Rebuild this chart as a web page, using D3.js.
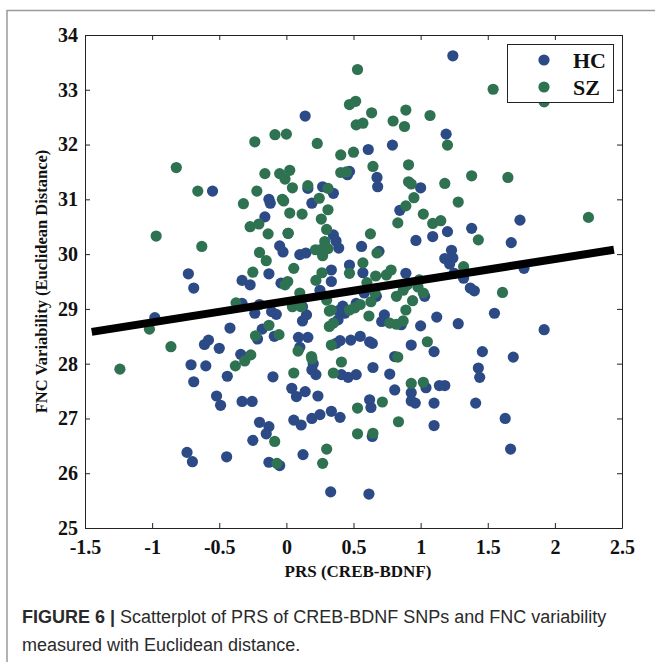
<!DOCTYPE html>
<html>
<head>
<meta charset="utf-8" />
<title>PRS vs FNC variability</title>
<style>
  body { margin: 0; background: #fff; }
  svg { display: block; }
</style>
</head>
<body>
<div id="chart"></div>
<script src="https://d3js.org/d3.v7.min.js"></script>
<script>
// healthy controls
var hcX = [-0.98,-0.73,-0.69,-0.55,-0.58,-0.61,-0.50,-0.42,-0.71,-0.60,-0.69,-0.44,-0.52,-0.49,-0.33,-0.255,-0.74,-0.70,-0.445,-0.33,
  -0.27,-0.33,-0.20,-0.235,-0.18,-0.215,-0.34,-0.20,-0.13,-0.15,-0.25,-0.13,-0.05,-0.13,-0.12,-0.16,-0.13,-0.11,-0.075,-0.09,
  -0.10,-0.05,-0.025,0.013,-0.04,0.14,0.16,0.27,0.35,0.19,0.35,0.37,0.39,0.10,0.145,0.25,0.335,0.335,0.12,0.12,
  0.15,0.09,0.16,0.10,0.385,0.42,0.435,0.39,0.40,0.48,0.37,0.55,0.62,0.64,0.52,0.47,0.57,0.56,0.69,0.055,
  0.11,0.19,0.25,0.335,0.40,0.04,0.075,0.14,0.235,0.19,0.22,0.20,0.41,0.46,0.52,0.645,0.77,0.62,0.63,0.64,
  0.124,0.33,0.615,0.61,0.79,0.47,0.455,0.675,0.68,1.00,1.24,1.19,0.845,0.965,1.09,1.20,1.38,1.74,1.675,1.23,
  1.24,1.216,1.18,1.77,1.25,1.32,1.37,1.40,1.55,1.28,1.92,1.46,1.69,1.43,1.44,1.18,1.41,1.63,1.67,0.89,
  1.03,0.67,0.58,0.73,0.71,0.856,1.00,1.12,1.10,0.93,0.807,0.807,1.04,1.14,0.93,0.93,0.96,1.10,1.10];
var hcY = [28.84,29.64,29.38,31.15,28.43,28.35,28.28,28.65,27.98,27.96,27.67,27.77,27.41,27.24,27.31,27.31,26.38,26.21,26.30,29.52,
  29.44,29.10,29.08,28.92,28.63,28.45,28.17,26.93,26.85,26.72,26.60,26.20,26.14,31.00,30.93,30.68,29.64,28.95,28.90,28.50,
  27.76,30.15,30.04,30.38,29.47,32.52,31.20,31.23,31.11,30.93,30.35,30.24,30.11,29.99,30.02,29.34,29.71,29.50,29.04,28.78,
  28.89,28.48,28.48,28.30,28.80,29.05,28.92,28.97,28.42,28.43,28.37,28.50,28.40,28.37,29.10,29.80,29.66,30.14,30.05,26.97,
  26.88,27.00,27.07,27.13,27.02,27.55,27.40,27.49,27.41,27.89,27.80,28.00,27.80,27.75,27.80,27.93,27.81,27.34,27.20,26.67,
  26.34,25.66,25.62,31.91,31.99,31.51,31.45,31.40,31.23,31.21,33.62,32.19,30.80,30.25,30.32,30.41,30.47,30.62,30.21,30.07,
  29.93,29.82,29.92,29.74,29.65,29.56,29.38,29.33,28.92,28.73,28.62,28.22,28.12,27.92,27.75,27.60,27.28,27.00,26.44,29.65,
  29.23,29.23,29.29,28.89,28.77,28.71,28.69,28.85,28.22,28.34,28.13,27.52,27.56,27.60,27.47,27.32,27.28,27.28,26.87];

// schizophrenia patients
var szX = [-1.24,-1.02,-0.97,-0.86,-0.82,-0.66,-0.63,-0.32,-0.22,-0.16,-0.235,-0.085,0.0,-0.205,-0.27,-0.136,-0.20,-0.15,-0.25,-0.375,
  -0.13,-0.23,-0.055,-0.38,-0.31,-0.265,-0.087,-0.07,0.30,0.27,0.53,0.53,0.645,0.715,0.835,0.055,0.35,0.41,0.19,0.335,
  0.087,0.187,0.35,0.32,0.045,0.10,0.11,-0.01,0.01,0.055,0.22,0.265,0.30,0.335,0.32,0.025,-0.02,0.117,0.31,0.26,
  0.30,0.286,0.25,0.31,0.27,0.217,0.013,-0.05,0.025,-0.01,0.045,-0.03,0.16,0.31,0.245,0.23,0.53,0.47,0.516,0.635,
  0.52,0.57,0.795,0.88,0.89,1.07,1.20,0.405,0.50,0.645,0.91,0.405,0.447,0.91,0.93,1.18,0.95,0.89,0.83,1.02,
  1.09,1.15,1.28,1.38,1.65,1.54,1.92,2.25,1.43,1.32,1.61,0.626,0.675,0.57,0.47,0.665,0.745,0.78,0.99,0.98,
  1.02,0.94,0.89,0.90,0.87,0.82,0.60,0.66,0.63,0.51,0.55,0.47,0.615,0.77,0.82,0.87,1.05,0.83,0.93,1.02];
var szY = [27.90,28.63,30.33,28.31,31.58,31.15,30.14,30.92,31.15,31.47,32.05,32.18,32.19,30.55,30.50,30.37,30.03,29.88,29.67,29.11,
  28.70,28.51,28.53,27.96,28.05,28.16,26.58,26.18,26.44,26.18,27.19,26.72,26.73,27.30,26.94,27.83,27.83,28.03,28.09,28.34,
  28.23,28.13,28.74,28.96,29.04,29.29,29.04,29.44,29.50,29.74,29.52,29.66,29.16,28.98,28.68,30.75,30.97,30.73,30.81,30.64,
  30.45,30.23,30.08,30.10,29.97,30.08,30.38,31.47,31.53,31.37,31.21,31.00,31.25,31.20,31.02,32.02,33.37,32.73,32.79,32.58,
  32.36,32.39,32.43,32.33,32.63,32.53,31.99,31.81,31.86,31.60,31.63,31.49,31.50,31.32,31.28,31.29,31.03,30.88,30.57,30.73,
  30.56,30.61,30.95,31.43,31.40,33.01,32.78,30.67,30.26,29.77,29.30,30.37,30.02,29.84,29.65,29.60,29.62,29.71,29.53,29.40,
  29.29,29.15,28.98,29.44,29.34,29.23,29.48,29.29,29.13,29.02,29.08,28.98,28.87,28.74,28.72,28.78,28.40,28.12,27.64,27.66];

// fitted regression line (end points)
var fitX = [-1.45, 2.44];
var fitY = [28.58, 30.08];

var xTicks = [-1.5, -1, -0.5, 0, 0.5, 1, 1.5, 2, 2.5];
var yTicks = [25, 26, 27, 28, 29, 30, 31, 32, 33, 34];
var groups = ['HC', 'SZ'];
var colors = ['#2c4a86', '#2e7252'];

(function(d3) {
var width = 655, height = 662;
var pLeft = 85, pRight = 622, pTop = 35, pBottom = 528;
var serif = '"Liberation Serif", "Times New Roman", serif';
var sans = '"Liberation Sans", Arial, sans-serif';

var svg = d3.select('#chart').append('svg')
  .attr('width', width)
  .attr('height', height);

// figure frame
svg.append('path')
  .attr('d', 'M7,662 V10.5 H655')
  .attr('fill', 'none')
  .attr('stroke', '#9a9a9a')
  .attr('stroke-width', 1.5);

var x = d3.scaleLinear().domain([-1.5, 2.5]).range([pLeft, pRight]);
var y = d3.scaleLinear().domain([25, 34]).range([pBottom, pTop]);

function fmt(d) { return String(d); }

// points
var plot = svg.append('g');
plot.selectAll('circle.hc')
  .data(d3.range(hcX.length))
  .enter().append('circle')
  .attr('class', 'hc')
  .attr('cx', function(i) { return x(hcX[i]); })
  .attr('cy', function(i) { return y(hcY[i]); })
  .attr('r', 5.6)
  .attr('fill', colors[0]);
plot.selectAll('circle.sz')
  .data(d3.range(szX.length))
  .enter().append('circle')
  .attr('class', 'sz')
  .attr('cx', function(i) { return x(szX[i]); })
  .attr('cy', function(i) { return y(szY[i]); })
  .attr('r', 5.6)
  .attr('fill', colors[1]);

// regression line
svg.append('path')
  .datum(d3.range(fitX.length))
  .attr('d', d3.line()
    .x(function(i) { return x(fitX[i]); })
    .y(function(i) { return y(fitY[i]); }))
  .attr('stroke', '#000')
  .attr('stroke-width', 8)
  .attr('fill', 'none');

// axes, ticks pointing inwards on all sides
function styleAxis(g) {
  g.selectAll('.domain').attr('stroke', '#222').attr('stroke-width', 1);
  g.selectAll('.tick line').attr('stroke', '#222');
  g.selectAll('text')
    .attr('font-family', serif)
    .attr('font-weight', 'bold')
    .attr('font-size', 20)
    .attr('fill', '#111');
}
svg.append('g')
  .attr('transform', 'translate(0,' + pBottom + ')')
  .call(d3.axisBottom(x).tickValues(xTicks).tickFormat(fmt).tickSizeInner(-5).tickSizeOuter(0).tickPadding(12))
  .call(styleAxis);
svg.append('g')
  .attr('transform', 'translate(0,' + pTop + ')')
  .call(d3.axisTop(x).tickValues(xTicks).tickFormat('').tickSizeInner(-5).tickSizeOuter(0))
  .call(styleAxis);
svg.append('g')
  .attr('transform', 'translate(' + pLeft + ',0)')
  .call(d3.axisLeft(y).tickValues(yTicks).tickFormat(fmt).tickSizeInner(-5).tickSizeOuter(0).tickPadding(7))
  .call(styleAxis);
svg.append('g')
  .attr('transform', 'translate(' + pRight + ',0)')
  .call(d3.axisRight(y).tickValues(yTicks).tickFormat('').tickSizeInner(-5).tickSizeOuter(0))
  .call(styleAxis);

// axis titles
svg.append('text')
  .attr('x', 358)
  .attr('y', 577)
  .attr('text-anchor', 'middle')
  .attr('font-family', serif)
  .attr('font-weight', 'bold')
  .attr('font-size', 17)
  .attr('fill', '#111')
  .text('PRS (CREB-BDNF)');
svg.append('text')
  .attr('transform', 'translate(47,' + ((pTop + pBottom) / 2) + ') rotate(-90)')
  .attr('text-anchor', 'middle')
  .attr('font-family', serif)
  .attr('font-weight', 'bold')
  .attr('font-size', 16.5)
  .attr('fill', '#111')
  .text('FNC Variability (Euclidean Distance)');

// legend
var legend = svg.append('g').attr('transform', 'translate(507,44)');
legend.append('rect')
  .attr('x', 0.5).attr('y', 0.5)
  .attr('width', 106).attr('height', 58)
  .attr('fill', '#fff')
  .attr('stroke', '#222');
groups.forEach(function(name, i) {
  legend.append('circle')
    .attr('cx', 37).attr('cy', 16 + i * 27)
    .attr('r', 5.6)
    .attr('fill', colors[i]);
  legend.append('text')
    .attr('x', 66).attr('y', 23.5 + i * 27)
    .attr('font-family', serif)
    .attr('font-weight', 'bold')
    .attr('font-size', 22)
    .attr('fill', '#111')
    .text(name);
});

// caption
var cap = svg.append('text')
  .attr('x', 22)
  .attr('y', 623)
  .attr('font-family', sans)
  .attr('font-size', 18)
  .attr('fill', '#2a2a2a');
cap.append('tspan').attr('font-weight', 'bold').text('FIGURE 6 | ');
cap.append('tspan').text('Scatterplot of PRS of CREB-BDNF SNPs and FNC variability');
svg.append('text')
  .attr('x', 22)
  .attr('y', 651)
  .attr('font-family', sans)
  .attr('font-size', 18)
  .attr('fill', '#2a2a2a')
  .text('measured with Euclidean distance.');
})(window.d3);
</script>
</body>
</html>
